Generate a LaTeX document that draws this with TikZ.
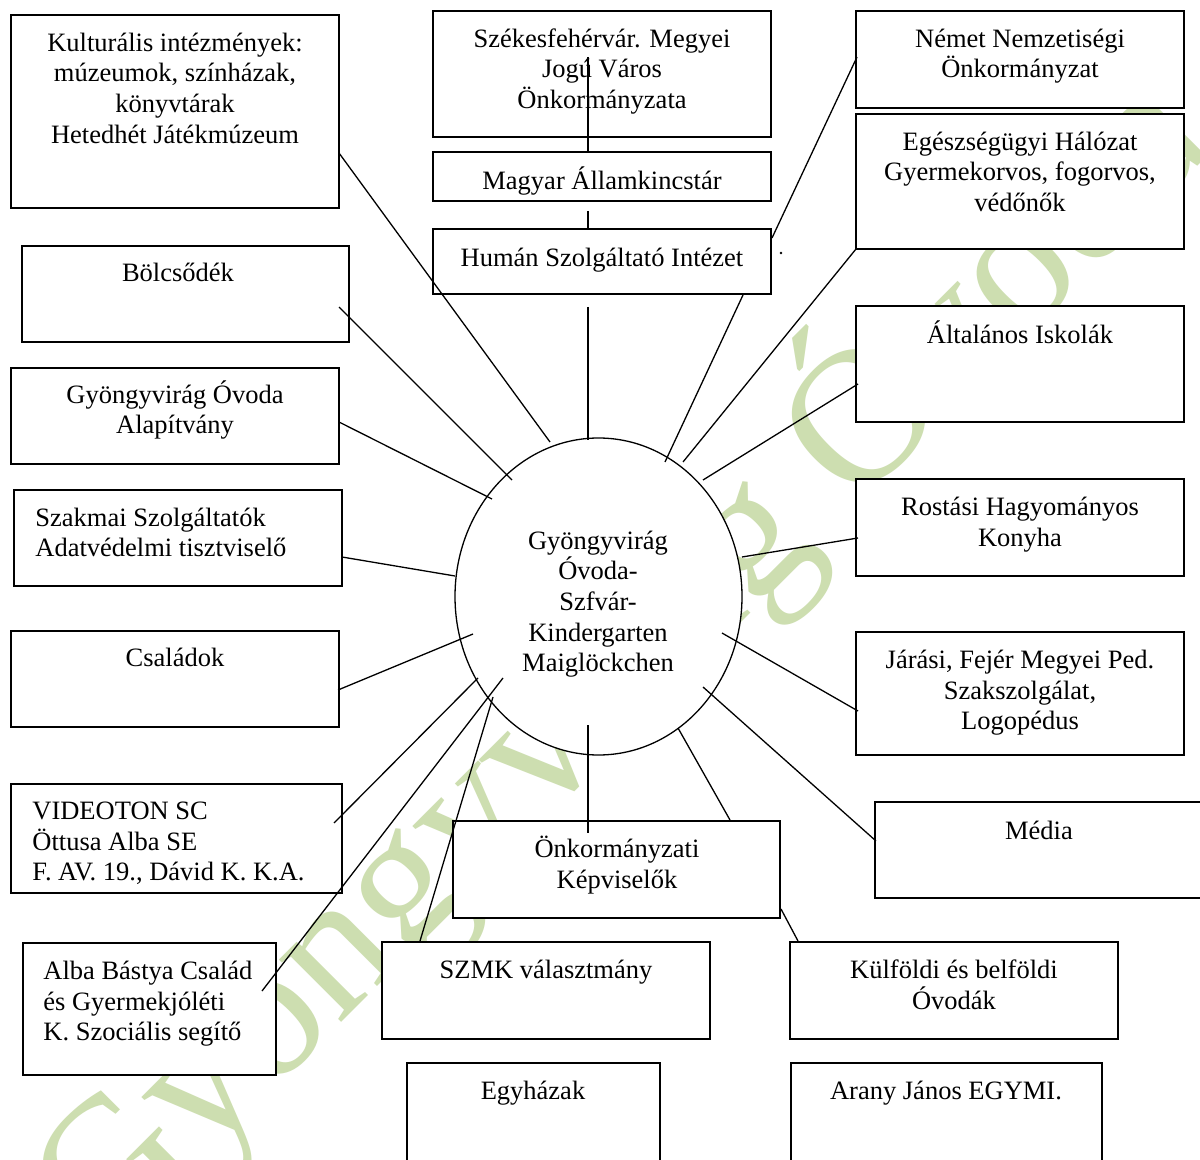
\documentclass[tikz,border=0pt]{standalone}
\usepackage{fontspec}
\setmainfont{Liberation Serif}
\usetikzlibrary{fit,shapes.geometric}
\definecolor{wmgreen}{RGB}{205,222,176}
\newcommand\mystrut{\rule{0pt}{12pt}}
\newcommand\mybox[5]{\node[box, fit={(#2,#3) (#4,#5)}] (#1) {};}
\begin{document}
\begin{tikzpicture}[x=0.5pt,y=-0.5pt,
  box/.style={draw, line width=1pt, fill=white, inner sep=0pt},
  txt/.style={inner sep=0pt, anchor=north, align=center, font=\fontsize{13.25}{15.3}\selectfont},
  ltxt/.style={txt, anchor=north west, align=left},
  conn/.style={line width=0.65pt},
  wm/.style={inner sep=0pt, text=wmgreen, font=\fontsize{96}{100}\selectfont}]
\useasboundingbox (0,0) rectangle (1200,1160);
\fill[white] (0,0) rectangle (1200,1160);
% watermark
\node[wm, rotate=45, anchor=base west] (wmark) at (104,1260) {Gyöngyvirág Óvoda};
% boxes
\mybox{kult}{11}{15}{339}{208}
\mybox{szfv}{433}{11}{771}{137}
\mybox{magyar}{433}{152}{771}{201}
\mybox{human}{433}{229}{771}{294}
\mybox{nemet}{856}{11}{1184}{108}
\mybox{egesz}{856}{114}{1184}{249}
\mybox{bolcs}{22}{246}{349}{342}
\mybox{alap}{11}{368}{339}{464}
\mybox{szakmai}{14}{490}{342}{586}
\mybox{csal}{11}{631}{339}{727}
\mybox{video}{11}{784}{342}{893}
\mybox{alba}{23}{943}{276}{1075}
\mybox{altal}{856}{306}{1184}{422}
\mybox{rost}{856}{479}{1184}{576}
\mybox{jarasi}{856}{632}{1184}{755}
\mybox{media}{875}{802}{1203}{898}
\mybox{onk}{453}{821}{780}{918}
\mybox{szmk}{382}{942}{710}{1039}
\mybox{kulf}{790}{942}{1118}{1039}
\mybox{egyh}{407}{1063}{660}{1185}
\mybox{arany}{791}{1063}{1102}{1185}
\node[draw, ellipse, fill=white, line width=0.65pt, inner sep=0pt, minimum width=143.5pt, minimum height=158.5pt] (c) at (598.5,596.5) {};
% texts
\node[txt] (kult-t) at (175,27) {\mystrut Kulturális intézmények:\\ múzeumok, színházak,\\ könyvtárak\\ Hetedhét Játékmúzeum};
\node[txt] (szfv-t) at (602,23) {\mystrut Székesfehérvár. Megyei\\ Jogú Város\\ Önkormányzata};
\node[txt] (magyar-t) at (602,165) {\mystrut Magyar Államkincstár};
\node[txt] (human-t) at (602,242) {\mystrut Humán Szolgáltató Intézet};
\node[txt] (nemet-t) at (1020,23) {\mystrut Német Nemzetiségi\\ Önkormányzat};
\node[txt] (egesz-t) at (1020,126) {\mystrut Egészségügyi Hálózat\\ Gyermekorvos, fogorvos,\\ védőnők};
\node[txt] (bolcs-t) at (178,257) {\mystrut Bölcsődék};
\node[txt] (alap-t) at (175,379) {\mystrut Gyöngyvirág Óvoda\\ Alapítvány};
\node[ltxt] (szakmai-t) at (35,502) {\mystrut Szakmai Szolgáltatók\\ Adatvédelmi tisztviselő};
\node[txt] (csal-t) at (175,642) {\mystrut Családok};
\node[ltxt] (video-t) at (32,795) {\mystrut VIDEOTON SC\\ Öttusa Alba SE\\ F. AV. 19., Dávid K. K.A.};
\node[ltxt] (alba-t) at (43,955) {\mystrut Alba Bástya Család\\ és Gyermekjóléti\\ K. Szociális segítő};
\node[txt] (altal-t) at (1020,319) {\mystrut Általános Iskolák};
\node[txt] (rost-t) at (1020,491) {\mystrut Rostási Hagyományos\\ Konyha};
\node[txt] (jarasi-t) at (1020,644) {\mystrut Járási, Fejér Megyei Ped.\\ Szakszolgálat,\\ Logopédus};
\node[txt] (media-t) at (1039,815) {\mystrut Média};
\node[txt] (onk-t) at (617,833) {\mystrut Önkormányzati\\ Képviselők};
\node[txt] (szmk-t) at (546,954) {\mystrut SZMK választmány};
\node[txt] (kulf-t) at (954,954) {\mystrut Külföldi és belföldi\\ Óvodák};
\node[txt] (egyh-t) at (533,1075) {\mystrut Egyházak};
\node[txt] (arany-t) at (946,1075) {\mystrut Arany János EGYMI.};
\node[txt] (c-t) at (598,525) {\mystrut Gyöngyvirág\\ Óvoda-\\ Szfvár-\\ Kindergarten\\ Maiglöckchen};
% connector end points
\coordinate (szfv-e) at (588,57);   \coordinate (magyar-n) at (588,152);
\coordinate (magyar-s) at (588,211); \coordinate (human-n) at (588,229);
\coordinate (human-s) at (588,307); \coordinate (c-n) at (588,440);
\coordinate (kult-e) at (339,153);  \coordinate (c-kult) at (550,442);
\coordinate (nemet-w) at (857,57);  \coordinate (human-e) at (772,238);
\coordinate (human-se) at (743,295); \coordinate (c-human) at (665,462);
\coordinate (egesz-w) at (856,249); \coordinate (c-egesz) at (683,462);
\coordinate (altal-w) at (858,384); \coordinate (c-altal) at (703,480);
\coordinate (rost-w) at (858,538);  \coordinate (c-rost) at (742,557);
\coordinate (jarasi-w) at (858,711); \coordinate (c-jarasi) at (722,633);
\coordinate (media-w) at (876,841); \coordinate (c-media) at (703,687);
\coordinate (onk-ne) at (730,820);  \coordinate (c-onk) at (678,728);
\coordinate (c-s) at (588,725);     \coordinate (onk-in) at (588,833);
\coordinate (onk-se) at (781,909);  \coordinate (kulf-n) at (798,941);
\coordinate (szmk-n) at (420,941);  \coordinate (c-szmk) at (493,697);
\coordinate (alba-e) at (262,991);  \coordinate (c-alba) at (503,678);
\coordinate (video-e) at (334,823); \coordinate (c-video) at (478,678);
\coordinate (csal-e) at (338,690);  \coordinate (c-csal) at (473,634);
\coordinate (szakmai-e) at (342,557); \coordinate (c-szakmai) at (455,576);
\coordinate (alap-e) at (339,422);  \coordinate (c-alap) at (492,499);
\coordinate (bolcs-e) at (339,307); \coordinate (c-bolcs) at (512,480);
\coordinate (dot) at (781,253);
% connectors
\draw[conn] (szfv-e) -- (magyar-n);
\draw[conn] (magyar-s) -- (human-n);
\draw[conn] (human-s) -- (c-n);
\draw[conn] (kult-e) -- (c-kult);
\draw[conn] (nemet-w) -- (human-e);
\draw[conn] (human-se) -- (c-human);
\draw[conn] (egesz-w) -- (c-egesz);
\draw[conn] (altal-w) -- (c-altal);
\draw[conn] (rost-w) -- (c-rost);
\draw[conn] (jarasi-w) -- (c-jarasi);
\draw[conn] (media-w) -- (c-media);
\draw[conn] (onk-ne) -- (c-onk);
\draw[conn] (c-s) -- (onk-in);
\draw[conn] (onk-se) -- (kulf-n);
\draw[conn] (szmk-n) -- (c-szmk);
\draw[conn] (alba-e) -- (c-alba);
\draw[conn] (video-e) -- (c-video);
\draw[conn] (csal-e) -- (c-csal);
\draw[conn] (szakmai-e) -- (c-szakmai);
\draw[conn] (alap-e) -- (c-alap);
\draw[conn] (bolcs-e) -- (c-bolcs);
\fill (dot) circle[radius=1.3];
\end{tikzpicture}
\end{document}
